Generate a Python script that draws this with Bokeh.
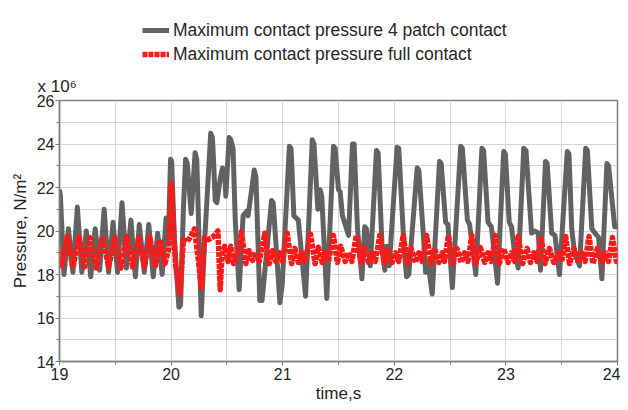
from bokeh.plotting import figure
from bokeh.layouts import column
from bokeh.models import (FixedTicker, Legend, LegendItem, Title, Range1d)
from bokeh.embed import file_html
from bokeh.resources import INLINE

# ---- data ----
gray_t = [19.000, 19.008, 19.04, 19.08, 19.12, 19.16, 19.20, 19.24, 19.28, 19.32,
          19.36, 19.40, 19.44, 19.48, 19.52, 19.56, 19.60, 19.64, 19.68, 19.715,
          19.76, 19.80, 19.84, 19.88, 19.92, 19.955, 19.975, 19.995, 20.005, 20.03,
          20.07, 20.085, 20.11, 20.13, 20.145, 20.18, 20.215, 20.23, 20.27, 20.30,
          20.355, 20.37, 20.38, 20.395, 20.41, 20.44, 20.46, 20.48, 20.49, 20.52,
          20.535, 20.555, 20.575, 20.61, 20.645, 20.675, 20.69, 20.745, 20.76, 20.795,
          20.815, 20.90, 20.915, 20.975, 20.995, 21.06, 21.075, 21.10, 21.14, 21.205,
          21.265, 21.28, 21.315, 21.335, 21.35, 21.395, 21.455, 21.47, 21.50, 21.515,
          21.535, 21.56, 21.59, 21.625, 21.64, 21.67, 21.71, 21.735, 21.75, 21.785,
          21.84, 21.855, 21.89, 21.915, 21.93, 21.955, 22.025, 22.04, 22.09, 22.11,
          22.13, 22.205, 22.22, 22.27, 22.28, 22.30, 22.34, 22.405, 22.42, 22.46,
          22.48, 22.52, 22.595, 22.61, 22.655, 22.675, 22.73, 22.785, 22.80, 22.84,
          22.87, 22.925, 22.98, 22.995, 23.03, 23.05, 23.075, 23.11, 23.16, 23.18,
          23.23, 23.26, 23.29, 23.31, 23.355, 23.37, 23.41, 23.44, 23.48, 23.55,
          23.565, 23.59, 23.615, 23.66, 23.715, 23.73, 23.77, 23.80, 23.83, 23.86,
          23.905, 23.92, 23.975, 24.00]
gray_v = [21.9, 21.6, 18.0, 20.1, 18.1, 21.1, 18.1, 20.0, 17.9, 20.1,
          18.2, 21.0, 18.1, 20.4, 18.1, 21.3, 18.3, 20.5, 17.9, 20.3,
          18.1, 20.3, 17.9, 19.9, 18.0, 20.6, 19.4, 23.3, 23.2, 19.5,
          16.5, 16.6, 21.0, 23.3, 23.1, 20.8, 23.6, 23.3, 16.1, 19.5,
          24.5, 24.3, 23.3, 21.4, 21.3, 22.4, 22.9, 22.7, 21.6, 24.3,
          24.2, 23.8, 20.5, 17.3, 20.7, 20.9, 20.7, 22.8, 22.5, 16.8,
          16.8, 21.4, 21.3, 16.7, 17.5, 23.9, 23.8, 20.7, 20.5, 17.0,
          24.2, 24.0, 21.0, 21.9, 21.6, 16.9, 23.9, 23.8, 21.9, 21.8,
          20.7, 20.3, 19.8, 24.0, 24.0, 20.1, 17.8, 20.2, 20.1, 18.4,
          23.7, 23.6, 19.3, 18.2, 19.3, 18.4, 23.85, 23.8, 19.0, 17.9,
          18.0, 22.9, 22.8, 19.1, 18.1, 18.6, 17.1, 23.2, 23.1, 20.4,
          20.3, 17.4, 23.9, 23.8, 20.5, 20.3, 18.0, 23.8, 23.7, 20.4,
          20.2, 17.6, 23.65, 23.55, 20.4, 20.2, 19.1, 18.3, 23.8, 23.7,
          19.9, 20.0, 19.9, 18.2, 23.2, 23.1, 19.9, 19.8, 18.0, 23.65,
          23.55, 20.1, 19.0, 18.4, 23.8, 23.7, 20.1, 19.9, 19.7, 17.8,
          23.1, 23.0, 20.2, 20.2]

red_t = [19.000, 19.02, 19.07, 19.12, 19.175, 19.225, 19.27, 19.33, 19.385, 19.44,
         19.495, 19.55, 19.60, 19.655, 19.71, 19.76, 19.81, 19.86, 19.90, 19.945,
         19.98, 20.00, 20.01, 20.04, 20.08, 20.11, 20.14, 20.17, 20.21, 20.245,
         20.27, 20.30, 20.33, 20.37, 20.42, 20.44, 20.455, 20.48, 20.51, 20.535,
         20.56, 20.59, 20.63, 20.67, 20.70, 20.73, 20.76, 20.79, 20.84, 20.88,
         20.91, 20.94, 20.97, 21.00, 21.04, 21.08, 21.11, 21.14, 21.17, 21.20,
         21.25, 21.29, 21.32, 21.355, 21.38, 21.41, 21.455, 21.49, 21.52, 21.56,
         21.59, 21.62, 21.66, 21.70, 21.73, 21.77, 21.80, 21.83, 21.87, 21.91,
         21.94, 21.98, 22.01, 22.04, 22.08, 22.12, 22.15, 22.19, 22.22, 22.25,
         22.29, 22.33, 22.36, 22.40, 22.43, 22.45, 22.485, 22.52, 22.56, 22.60,
         22.63, 22.66, 22.695, 22.73, 22.77, 22.81, 22.84, 22.87, 22.905, 22.94,
         22.98, 23.02, 23.05, 23.08, 23.11, 23.15, 23.19, 23.22, 23.25, 23.28,
         23.315, 23.35, 23.39, 23.43, 23.47, 23.50, 23.535, 23.57, 23.61, 23.65,
         23.68, 23.71, 23.745, 23.78, 23.82, 23.86, 23.89, 23.92, 23.955, 23.99,
         24.00]
red_v = [19.1, 18.4, 19.75, 18.3, 19.75, 18.35, 19.7, 18.3, 19.75, 18.35,
         19.7, 18.3, 19.75, 18.35, 19.7, 18.35, 19.7, 18.4, 19.6, 18.5,
         19.2, 22.2, 21.4, 18.4, 17.1, 19.6, 19.5, 19.7, 20.1, 18.6,
         17.4, 19.7, 19.6, 19.7, 20.0, 17.3, 18.8, 19.3, 18.6, 19.3,
         18.5, 18.9, 19.95, 18.5, 19.1, 18.65, 19.0, 18.6, 19.9, 18.5,
         19.1, 18.6, 19.0, 18.6, 19.9, 18.5, 19.2, 18.55, 19.0, 18.6,
         19.85, 18.5, 19.25, 18.55, 19.0, 18.6, 19.8, 18.55, 19.3, 18.6,
         19.0, 18.6, 19.8, 18.55, 19.25, 18.55, 19.0, 18.6, 19.8, 18.5,
         19.2, 18.55, 19.0, 18.6, 19.8, 18.5, 19.2, 18.55, 19.0, 18.6,
         19.8, 18.5, 19.2, 18.55, 19.0, 18.6, 19.8, 18.5, 19.2, 18.55,
         19.0, 18.6, 19.8, 18.5, 19.25, 18.55, 19.0, 18.6, 19.8, 18.5,
         19.2, 18.55, 19.0, 18.6, 19.75, 18.5, 19.2, 18.55, 19.0, 18.6,
         19.75, 18.5, 19.2, 18.55, 19.0, 18.6, 19.75, 18.5, 19.2, 18.55,
         19.0, 18.6, 19.75, 18.5, 19.2, 18.55, 19.0, 18.6, 19.7, 18.6,
         18.6]

x_ticks = [19, 20, 21, 22, 23, 24]
x_minor = [19.5, 20.5, 21.5, 22.5, 23.5]
y_ticks = [14, 16, 18, 20, 22, 24, 26]
y_minor = [15, 17, 19, 21, 23, 25]

series_names = ["Maximum contact pressure 4 patch contact",
                "Maximum contact pressure full contact"]
multiplier = "x 10\u2076"

FONT = "Liberation Sans"
TXT = "#262626"
GRID = "#d6d6d6"
GRAY = "#626262"
RED = "#ff1a1a"
W = 620
TOP_H = 69
GRAY_W, RED_W, RED_DASH = 5, 5.5, "5 1"

# ---- header strip holding the legend (series drawn outside its view) ----
top = figure(width=W, height=TOP_H, output_backend="svg", toolbar_location=None,
             x_range=Range1d(0, 1), y_range=Range1d(0, 1),
             x_axis_type=None, y_axis_type=None,
             min_border_left=0, min_border_right=0, min_border_top=0,
             min_border_bottom=0)
top.grid.visible = False
top.outline_line_color = None
top.background_fill_color = "white"
top.border_fill_color = "white"
lg = top.line(gray_t, gray_v, line_color=GRAY, line_width=GRAY_W)
lr = top.line(red_t, red_v, line_color=RED, line_width=RED_W, line_dash=RED_DASH)
legend = Legend(items=[LegendItem(label=series_names[0], renderers=[lg]),
                       LegendItem(label=series_names[1], renderers=[lr])],
                location=(83, 3), orientation="vertical",
                background_fill_alpha=0, border_line_alpha=0,
                padding=0, margin=0, spacing=0,
                glyph_width=27, glyph_height=24, label_height=24,
                label_standoff=4,
                label_text_font=FONT, label_text_font_size="17.5px",
                label_text_color=TXT)
top.add_layout(legend, "center")

# ---- main chart ----
p = figure(width=W, height=408 - TOP_H, output_backend="svg",
           toolbar_location=None,
           x_range=Range1d(19, 24), y_range=Range1d(14, 26),
           min_border_left=59, min_border_right=3, min_border_top=31,
           min_border_bottom=47)
p.background_fill_color = "white"
p.border_fill_color = "white"
p.outline_line_color = "#7f7f7f"
p.outline_line_width = 1.5

p.add_layout(Title(text=multiplier, align="left", offset=-22, standoff=10,
                   text_font=FONT, text_font_size="17px",
                   text_font_style="normal", text_color=TXT), "above")

p.xaxis.ticker = FixedTicker(ticks=x_ticks, minor_ticks=x_minor)
p.yaxis.ticker = FixedTicker(ticks=y_ticks, minor_ticks=y_minor)
p.xgrid.grid_line_color = GRID
p.ygrid.grid_line_color = GRID
p.xgrid.minor_grid_line_color = GRID
p.ygrid.minor_grid_line_color = GRID

for ax in (p.xaxis, p.yaxis):
    ax.axis_line_color = "#7f7f7f"
    ax.axis_line_width = 1.5
    ax.major_tick_line_color = "#7f7f7f"
    ax.minor_tick_line_color = "#7f7f7f"
    ax.major_tick_in = 0
    ax.major_tick_out = 4
    ax.minor_tick_in = 0
    ax.minor_tick_out = 3
    ax.major_label_text_font = FONT
    ax.major_label_text_font_size = "16px"
    ax.major_label_text_color = TXT
    ax.axis_label_text_font = FONT
    ax.axis_label_text_font_size = "17px"
    ax.axis_label_text_font_style = "normal"
    ax.axis_label_text_color = TXT

p.xaxis.axis_label = "time,s"
p.yaxis.axis_label = "Pressure, N/m\u00b2"
p.xaxis.major_label_standoff = 2
p.xaxis.axis_label_standoff = 1
p.yaxis.major_label_standoff = 1
p.yaxis.axis_label_standoff = 4

p.line(gray_t, gray_v, line_color=GRAY, line_width=GRAY_W, line_join="round")
p.line(red_t, red_v, line_color=RED, line_width=RED_W, line_dash=RED_DASH,
       line_join="round")

layout = column(top, p, spacing=0)
open("out.html", "w").write(file_html(layout, INLINE))
